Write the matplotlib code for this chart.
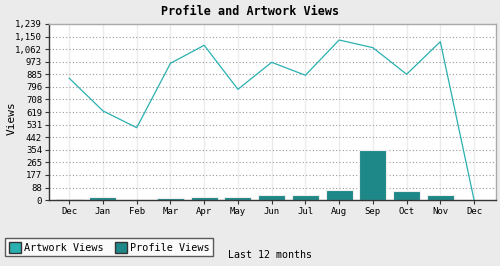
import numpy as np
import matplotlib.pyplot as plt
from matplotlib.patches import Patch

months = ["Dec", "Jan", "Feb", "Mar", "Apr", "May", "Jun", "Jul", "Aug", "Sep", "Oct", "Nov", "Dec"]
artwork_views = [857, 627, 509, 962, 1089, 779, 969, 878, 1126, 1072, 885, 1114, 0]
profile_views = [10, 23, 0, 16, 23, 23, 37, 37, 70, 352, 63, 37, 0]
yticks = [0, 88, 177, 265, 354, 442, 531, 619, 708, 796, 885, 973, 1062, 1150, 1239]

line_col = "#2ab0b0"
bar_col = "#1e8888"

plt.rcParams['font.family'] = ['DejaVu Sans Mono']

fig = plt.figure(figsize=(5, 2.66), dpi=100, facecolor="#ebebeb")
ax = fig.add_axes([0.098, 0.248, 0.894, 0.662])
ax.set_facecolor("white")

x = np.arange(len(months))
ax.bar(x, profile_views, width=0.8, color=bar_col, edgecolor="#eeeeee", linewidth=0.8, zorder=2)
ax.plot(x, artwork_views, color=line_col, linewidth=0.9, zorder=3)

ax.set_xlim(-0.6, 12.65)
ax.set_ylim(0, 1239)
ax.set_xticks(x)
ax.set_xticklabels(months, fontsize=6.5)
ax.set_yticks(yticks)
ax.set_yticklabels([f"{v:,}" for v in yticks], fontsize=6.5)
ax.tick_params(length=3, width=0.8, color="#333333", pad=2)

ax.yaxis.grid(True, linestyle=(0, (1, 2)), color="#999999", linewidth=0.8, zorder=0)
ax.xaxis.grid(True, linestyle="-", color="#ececec", linewidth=1, zorder=0)
ax.set_axisbelow(True)

for s in ["left", "bottom"]:
    ax.spines[s].set_color("#333333")
    ax.spines[s].set_linewidth(1)
for s in ["top", "right"]:
    ax.spines[s].set_color("#aaaaaa")
    ax.spines[s].set_linewidth(1)

fig.text(0.024, 0.555, "Views", rotation=90, ha="center", va="center", fontsize=8)
fig.text(0.5, 0.955, "Profile and Artwork Views", ha="center", va="center",
         fontsize=8.5, fontweight="bold")

handles = [Patch(facecolor=line_col, edgecolor="#333333", label="Artwork Views"),
           Patch(facecolor=bar_col, edgecolor="#333333", label="Profile Views")]
leg = fig.legend(handles=handles, loc="lower left", bbox_to_anchor=(0.01, 0.036),
                 ncol=2, fontsize=7.3, frameon=True, fancybox=False,
                 handlelength=1.2, handleheight=1.3, handletextpad=0.3,
                 columnspacing=1.1, borderpad=0.35, borderaxespad=0)
leg.get_frame().set_edgecolor("#333333")
leg.get_frame().set_linewidth(1)
leg.get_frame().set_facecolor("white")

fig.text(0.541, 0.041, "Last 12 months", ha="center", va="center", fontsize=7.2)

fig.savefig("out.png", dpi=100, facecolor=fig.get_facecolor())
